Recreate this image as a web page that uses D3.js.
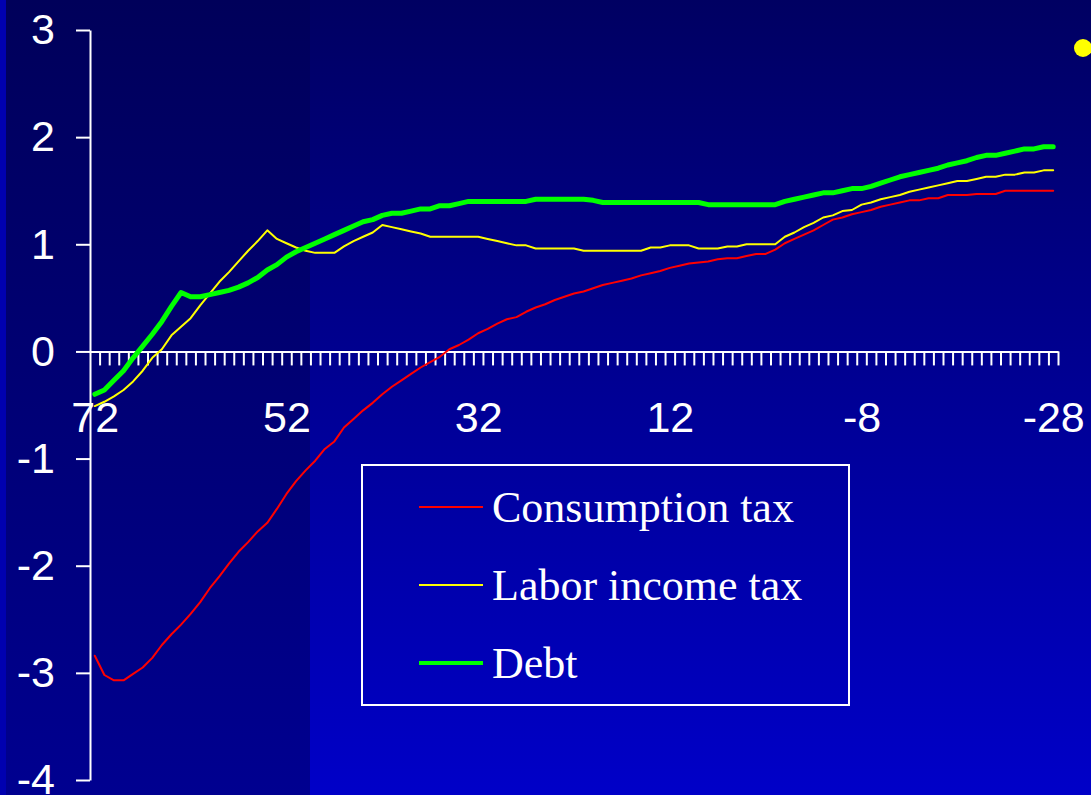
<!DOCTYPE html>
<html>
<head>
<meta charset="utf-8">
<script src="https://cdn.jsdelivr.net/npm/d3@7"></script>
<style>
  html, body { margin: 0; padding: 0; background: #000080; overflow: hidden; }
  svg { display: block; }
</style>
</head>
<body>
<script>
// years run from 72 down to -28, one point per year
var years = d3.range(72, -29, -1);

var consumption = [
  -2.84, -3.02, -3.07, -3.07, -3.01, -2.95, -2.86, -2.74, -2.64, -2.55,
  -2.45, -2.34, -2.21, -2.10, -1.98, -1.87, -1.78, -1.68, -1.60, -1.47,
  -1.33, -1.21, -1.11, -1.02, -0.91, -0.84, -0.71, -0.63, -0.55, -0.48,
  -0.40, -0.33, -0.27, -0.21, -0.15, -0.10, -0.05, 0.02, 0.06, 0.11,
  0.17, 0.21, 0.26, 0.30, 0.32, 0.37, 0.41, 0.44, 0.48, 0.51,
  0.54, 0.56, 0.59, 0.62, 0.64, 0.66, 0.68, 0.71, 0.73, 0.75,
  0.78, 0.80, 0.82, 0.83, 0.84, 0.86, 0.87, 0.87, 0.89, 0.91,
  0.91, 0.95, 1.01, 1.05, 1.09, 1.13, 1.18, 1.23, 1.25, 1.28,
  1.30, 1.32, 1.35, 1.37, 1.39, 1.41, 1.41, 1.43, 1.43, 1.46,
  1.46, 1.46, 1.47, 1.47, 1.47, 1.50, 1.50, 1.50, 1.50, 1.50,
  1.50
];

var labor = [
  -0.51, -0.47, -0.42, -0.36, -0.28, -0.18, -0.06, 0.02, 0.15, 0.23,
  0.31, 0.43, 0.54, 0.65, 0.74, 0.84, 0.94, 1.03, 1.13, 1.05,
  1.01, 0.97, 0.94, 0.92, 0.92, 0.92, 0.98, 1.03, 1.07, 1.11,
  1.18, 1.16, 1.14, 1.12, 1.10, 1.07, 1.07, 1.07, 1.07, 1.07,
  1.07, 1.05, 1.03, 1.01, 0.99, 0.99, 0.96, 0.96, 0.96, 0.96,
  0.96, 0.94, 0.94, 0.94, 0.94, 0.94, 0.94, 0.94, 0.97, 0.97,
  0.99, 0.99, 0.99, 0.96, 0.96, 0.96, 0.98, 0.98, 1.00, 1.00,
  1.00, 1.00, 1.07, 1.11, 1.16, 1.20, 1.25, 1.27, 1.31, 1.32,
  1.37, 1.39, 1.42, 1.44, 1.46, 1.49, 1.51, 1.53, 1.55, 1.57,
  1.59, 1.59, 1.61, 1.63, 1.63, 1.65, 1.65, 1.67, 1.67, 1.69,
  1.69
];

var debt = [
  -0.40, -0.36, -0.27, -0.18, -0.06, 0.05, 0.16, 0.28, 0.42, 0.55,
  0.51, 0.51, 0.53, 0.55, 0.57, 0.60, 0.64, 0.69, 0.76, 0.81,
  0.88, 0.93, 0.97, 1.01, 1.05, 1.09, 1.13, 1.17, 1.21, 1.23,
  1.27, 1.29, 1.29, 1.31, 1.33, 1.33, 1.36, 1.36, 1.38, 1.40,
  1.40, 1.40, 1.40, 1.40, 1.40, 1.40, 1.42, 1.42, 1.42, 1.42,
  1.42, 1.42, 1.41, 1.39, 1.39, 1.39, 1.39, 1.39, 1.39, 1.39,
  1.39, 1.39, 1.39, 1.39, 1.37, 1.37, 1.37, 1.37, 1.37, 1.37,
  1.37, 1.37, 1.40, 1.42, 1.44, 1.46, 1.48, 1.48, 1.50, 1.52,
  1.52, 1.54, 1.57, 1.60, 1.63, 1.65, 1.67, 1.69, 1.71, 1.74,
  1.76, 1.78, 1.81, 1.83, 1.83, 1.85, 1.87, 1.89, 1.89, 1.91,
  1.91
];

var seriesNames = ["Consumption tax", "Labor income tax", "Debt"];
var seriesColors = ["#ff0000", "#ffff00", "#00ff00"];
var seriesWidths = [2, 2, 5];
var xLabels = [72, 52, 32, 12, -8, -28];
var yTicks = [3, 2, 1, 0, -1, -2, -3, -4];

var width = 1091;
var height = 795;

var svg = d3.select("body")
  .append("svg")
  .attr("width", width)
  .attr("height", height);

var defs = svg.append("defs");
var bg = defs.append("linearGradient")
  .attr("id", "bg")
  .attr("x1", 0).attr("y1", 0).attr("x2", 0).attr("y2", 1);
bg.append("stop").attr("offset", "0%").attr("stop-color", "#000062");
bg.append("stop").attr("offset", "100%").attr("stop-color", "#0000c8");

var dark = defs.append("linearGradient")
  .attr("id", "dark")
  .attr("x1", 0).attr("y1", 0).attr("x2", 0).attr("y2", 1);
dark.append("stop").attr("offset", "0%").attr("stop-color", "#00005a");
dark.append("stop").attr("offset", "100%").attr("stop-color", "#000090");

svg.append("rect")
  .attr("width", width)
  .attr("height", height)
  .attr("fill", "url(#bg)");

svg.append("rect")
  .attr("width", 6)
  .attr("height", height)
  .attr("fill", "#0000b0");

svg.append("rect")
  .attr("x", 6)
  .attr("width", 304)
  .attr("height", height)
  .attr("fill", "url(#dark)");

var x = d3.scaleLinear()
  .domain([72.5, -28.5])
  .range([90, 1058]);

var y = d3.scaleLinear()
  .domain([3, -4])
  .range([30, 780]);

var plain = function(d) { return String(d); };

// y axis
svg.append("g")
  .attr("transform", "translate(" + x(72.5) + ",0)")
  .call(d3.axisLeft(y).tickValues(yTicks).tickFormat(plain)
    .tickSize(14).tickSizeOuter(0).tickPadding(21));

// x axis: tick marks between categories
var bounds = d3.range(71.5, -29, -1);
svg.append("g")
  .attr("transform", "translate(0," + y(0) + ")")
  .call(d3.axisBottom(x).tickValues(bounds).tickSize(14).tickSizeOuter(0).tickFormat(""));

var xLab = svg.append("g")
  .attr("transform", "translate(0," + y(0) + ")")
  .call(d3.axisBottom(x).tickValues(xLabels).tickFormat(plain).tickSize(0).tickPadding(50));
xLab.select(".domain").remove();

svg.selectAll(".domain, .tick line")
  .attr("stroke", "#ffffff")
  .attr("stroke-width", 2);

svg.selectAll(".tick text")
  .attr("fill", "#ffffff")
  .style("font-family", "'Liberation Sans', Arial, sans-serif")
  .style("font-size", "43px");

// lines
var all = [consumption, labor, debt];
var line = d3.line()
  .x(function(d, i) { return x(years[i]); })
  .y(function(d) { return y(d); });

svg.selectAll("path.series")
  .data(all)
  .enter()
  .append("path")
  .attr("class", "series")
  .attr("d", line)
  .attr("fill", "none")
  .attr("stroke", function(d, i) { return seriesColors[i]; })
  .attr("stroke-width", function(d, i) { return seriesWidths[i]; })
  .attr("stroke-linejoin", "round")
  .attr("stroke-linecap", "round");

// legend
var legend = svg.append("g");
legend.append("rect")
  .attr("x", 362)
  .attr("y", 465)
  .attr("width", 487)
  .attr("height", 240)
  .attr("fill", "none")
  .attr("stroke", "#ffffff")
  .attr("stroke-width", 2);

var item = legend.selectAll("g.item")
  .data(seriesNames)
  .enter()
  .append("g")
  .attr("class", "item")
  .attr("transform", function(d, i) { return "translate(0," + (507 + i * 78) + ")"; });

item.append("line")
  .attr("x1", 419)
  .attr("x2", 483)
  .attr("stroke", function(d, i) { return seriesColors[i]; })
  .attr("stroke-width", function(d, i) { return seriesWidths[i] === 5 ? 4 : 2; });

item.append("text")
  .attr("x", 492)
  .attr("y", 15)
  .attr("fill", "#ffffff")
  .style("font-family", "'Liberation Serif', 'Times New Roman', serif")
  .style("font-size", "44px")
  .text(function(d) { return d; });

// bullet at top right
svg.append("circle")
  .attr("cx", 1083)
  .attr("cy", 48)
  .attr("r", 9)
  .attr("fill", "#ffff00");
</script>
</body>
</html>
